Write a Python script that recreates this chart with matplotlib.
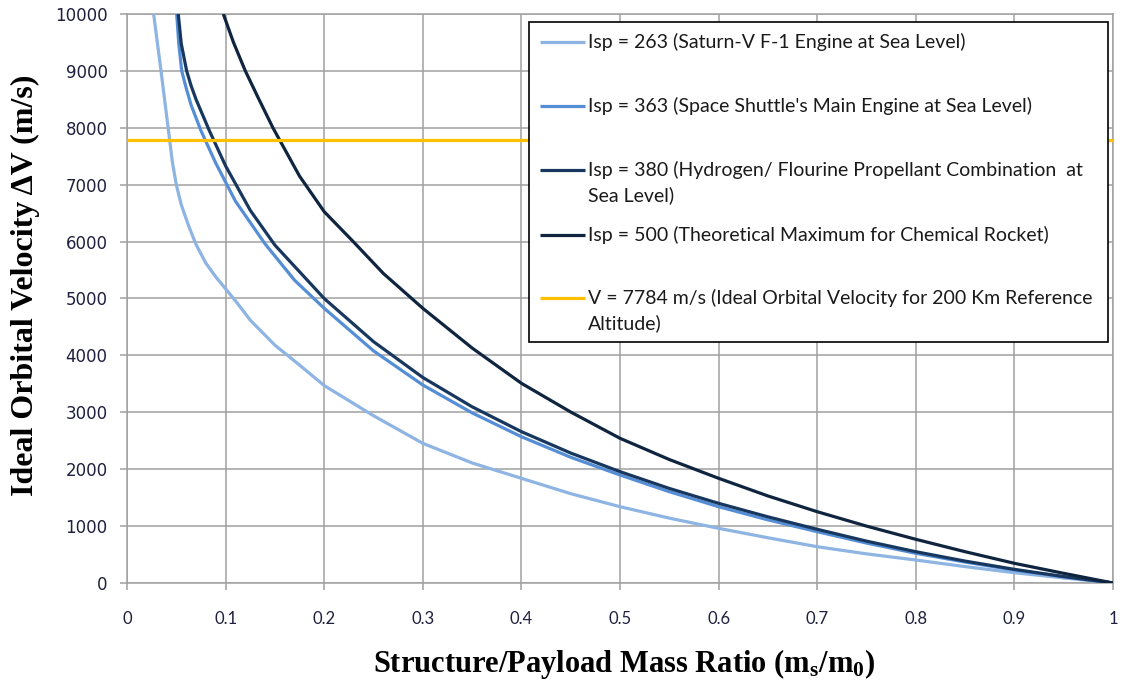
import matplotlib
matplotlib.use("Agg")
import matplotlib.pyplot as plt
from matplotlib.lines import Line2D
from matplotlib.patches import Rectangle

# ---------------- data ----------------
isp263_x = [0.027, 0.0345, 0.041, 0.046, 0.050, 0.055, 0.062, 0.070, 0.080, 0.090,
            0.100, 0.110, 0.125, 0.150, 0.175, 0.200, 0.250, 0.300, 0.350, 0.400,
            0.450, 0.500, 0.550, 0.600, 0.650, 0.700, 0.750, 0.800, 0.850, 0.900,
            0.950, 1.000]
isp263_y = [10000, 9000, 8100, 7400, 7000, 6650, 6300, 5950, 5620, 5380,
            5170, 4960, 4620, 4180, 3830, 3470, 2940, 2455, 2110, 1840,
            1570, 1341, 1140, 961, 795, 638, 512, 404, 288, 181,
            89, 0]

isp363_x = [0.0504, 0.0525, 0.0555, 0.060, 0.065, 0.075, 0.090, 0.110, 0.140, 0.170,
            0.200, 0.250, 0.300, 0.350, 0.400, 0.450, 0.500, 0.550, 0.600, 0.650,
            0.700, 0.750, 0.800, 0.850, 0.900, 0.950, 1.000]
isp363_y = [10000, 9480, 9000, 8700, 8400, 7950, 7380, 6710, 5960, 5320,
            4828, 4080, 3480, 2990, 2571, 2210, 1898, 1605, 1341, 1110,
            902, 702, 522, 368, 228, 109, 0]

isp380_x = [0.052, 0.055, 0.0605, 0.065, 0.070, 0.0835, 0.100, 0.125, 0.150, 0.175,
            0.200, 0.250, 0.300, 0.350, 0.400, 0.450, 0.500, 0.550, 0.600, 0.650,
            0.700, 0.750, 0.800, 0.850, 0.900, 0.950, 1.000]
isp380_y = [10000, 9480, 9000, 8740, 8500, 7950, 7330, 6550, 5938, 5470,
            5000, 4242, 3612, 3097, 2660, 2284, 1957, 1662, 1400, 1163,
            944, 736, 550, 385, 240, 113, 0]

isp500_x = [0.0977, 0.108, 0.120, 0.133, 0.148, 0.175, 0.200, 0.230, 0.260, 0.300,
            0.350, 0.400, 0.450, 0.500, 0.550, 0.600, 0.650, 0.700, 0.750, 0.800,
            0.850, 0.900, 0.950, 1.000]
isp500_y = [10000, 9500, 9000, 8530, 8000, 7150, 6526, 5990, 5440, 4828,
            4130, 3510, 3005, 2543, 2170, 1840, 1530, 1253, 1000, 768,
            550, 346, 170, 0]

orbit_x = [0.0, 1.0]
orbit_y = [7784, 7784]

series_labels = [
    "Isp = 263 (Saturn-V F-1 Engine at Sea Level)",
    "Isp = 363 (Space Shuttle's Main Engine at Sea Level)",
    "Isp = 380 (Hydrogen/ Flourine Propellant Combination  at\nSea Level)",
    "Isp = 500 (Theoretical Maximum for Chemical Rocket)",
    "V = 7784 m/s (Ideal Orbital Velocity for 200 Km Reference\nAltitude)",
]
series_colors = ["#8DB4E2", "#558ED5", "#17375E", "#0F243E", "#FFC000"]

x_ticks = [0, 0.1, 0.2, 0.3, 0.4, 0.5, 0.6, 0.7, 0.8, 0.9, 1]
x_ticklabels = ["0", "0.1", "0.2", "0.3", "0.4", "0.5", "0.6", "0.7", "0.8", "0.9", "1"]
y_ticks = list(range(0, 10001, 1000))

# ---------------- figure ----------------
plt.rcParams["mathtext.fontset"] = "custom"
plt.rcParams["mathtext.rm"] = "Liberation Serif:bold"
plt.rcParams["mathtext.it"] = "Liberation Serif:bold"
plt.rcParams["mathtext.bf"] = "Liberation Serif:bold"

W, H = 1125, 683
fig = plt.figure(figsize=(W / 100, H / 100), dpi=100)
fig.patch.set_facecolor("white")

def fx(px):
    return px / W

def fy(py):
    return 1 - py / H

ax = fig.add_axes([fx(127), fy(583), fx(1113) - fx(127), fy(14) - fy(583)])

grid_color = "#A0A0A0"
ax.set_xlim(0, 1)
ax.set_ylim(0, 10000)
ax.set_xticks(x_ticks)
ax.set_xticklabels(x_ticklabels)
ax.set_yticks(y_ticks)
ax.grid(True, color=grid_color, linewidth=1.1)
ax.set_axisbelow(True)
for sp in ax.spines.values():
    sp.set_color(grid_color)
    sp.set_linewidth(1.1)

ax.tick_params(axis="y", direction="out", length=5, width=1.1, color=grid_color,
               pad=9, labelsize=12, labelcolor="#1F1F3F")
ax.tick_params(axis="x", direction="out", length=5, width=1.1, color=grid_color,
               pad=15, labelsize=12, labelcolor="#1F1F3F")
for lab in ax.get_yticklabels():
    lab.set_fontfamily("DejaVu Sans")
for lab in ax.get_xticklabels():
    lab.set_fontfamily("Lato")

lw = 2.3
series = [(isp263_x, isp263_y), (isp363_x, isp363_y), (isp380_x, isp380_y),
          (isp500_x, isp500_y), (orbit_x, orbit_y)]
for (xs, ys), c, lab in zip(series, series_colors, series_labels):
    ax.plot(xs, ys, color=c, linewidth=lw, label=lab, solid_capstyle="butt",
            solid_joinstyle="round", clip_on=True, zorder=3)

ax.set_xlabel(r"Structure/Payload Mass Ratio (m$_{\rm s}$/m$_{\rm 0}$)",
              fontfamily="Liberation Serif", fontweight="bold", fontsize=22)
ax.set_ylabel("Ideal Orbital Velocity ΔV (m/s)",
              fontfamily="Liberation Serif", fontweight="bold", fontsize=23)
ax.xaxis.set_label_coords(0.504, -0.112)
ax.yaxis.set_label_coords(-0.088, 0.523)

# ---------------- legend (Excel-style box) ----------------
box = Rectangle((fx(529), fy(342)), fx(1108) - fx(529), fy(22) - fy(342),
                transform=fig.transFigure, facecolor="white", edgecolor="black",
                linewidth=1.2, zorder=5)
fig.add_artist(box)
line_y = [42, 106, 170, 235, 298]
for yy, c, lab in zip(line_y, series_colors, series_labels):
    fig.add_artist(Line2D([fx(540), fx(585)], [fy(yy), fy(yy)], color=c,
                          linewidth=lw, transform=fig.transFigure, zorder=6,
                          solid_capstyle="butt"))
    for k, part in enumerate(lab.split("\n")):
        fig.text(fx(588), fy(yy + 25 * k), part, ha="left", va="center",
                 fontfamily="Lato", fontsize=14, color="#1A1A1A", zorder=7)

fig.savefig("out.png", dpi=100)
